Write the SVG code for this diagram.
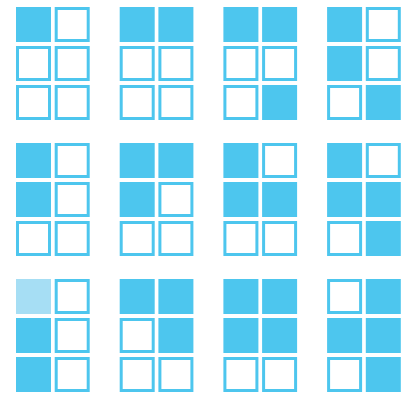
<svg xmlns="http://www.w3.org/2000/svg" width="409" height="396" viewBox="0 0 409 396">
<style>
.f{fill:#4DC6EE}
.l{fill:#A6DEF4}
.e{fill:none;stroke:#4DC6EE;stroke-width:3}
</style>
<defs>
<rect id="F" class="f" x="0" y="0" width="35" height="35"/>
<rect id="L" class="l" x="0" y="0" width="35" height="35"/>
<rect id="E" class="e" x="1.5" y="1.5" width="32" height="32"/>
</defs>
<rect width="409" height="396" fill="#ffffff"/>
<g id="cell1" transform="translate(16,7)">
<use href="#F" x="0" y="0"/><use href="#E" x="38.7" y="0"/>
<use href="#E" x="0" y="39"/><use href="#E" x="38.7" y="39"/>
<use href="#E" x="0" y="78"/><use href="#E" x="38.7" y="78"/>
</g>
<g id="cell2" transform="translate(119.7,7)">
<use href="#F" x="0" y="0"/><use href="#F" x="38.7" y="0"/>
<use href="#E" x="0" y="39"/><use href="#E" x="38.7" y="39"/>
<use href="#E" x="0" y="78"/><use href="#E" x="38.7" y="78"/>
</g>
<g id="cell3" transform="translate(223.4,7)">
<use href="#F" x="0" y="0"/><use href="#F" x="38.7" y="0"/>
<use href="#E" x="0" y="39"/><use href="#E" x="38.7" y="39"/>
<use href="#E" x="0" y="78"/><use href="#F" x="38.7" y="78"/>
</g>
<g id="cell4" transform="translate(327.1,7)">
<use href="#F" x="0" y="0"/><use href="#E" x="38.7" y="0"/>
<use href="#F" x="0" y="39"/><use href="#E" x="38.7" y="39"/>
<use href="#E" x="0" y="78"/><use href="#F" x="38.7" y="78"/>
</g>
<g id="cell5" transform="translate(16,143)">
<use href="#F" x="0" y="0"/><use href="#E" x="38.7" y="0"/>
<use href="#F" x="0" y="39"/><use href="#E" x="38.7" y="39"/>
<use href="#E" x="0" y="78"/><use href="#E" x="38.7" y="78"/>
</g>
<g id="cell6" transform="translate(119.7,143)">
<use href="#F" x="0" y="0"/><use href="#F" x="38.7" y="0"/>
<use href="#F" x="0" y="39"/><use href="#E" x="38.7" y="39"/>
<use href="#E" x="0" y="78"/><use href="#E" x="38.7" y="78"/>
</g>
<g id="cell7" transform="translate(223.4,143)">
<use href="#F" x="0" y="0"/><use href="#E" x="38.7" y="0"/>
<use href="#F" x="0" y="39"/><use href="#F" x="38.7" y="39"/>
<use href="#E" x="0" y="78"/><use href="#E" x="38.7" y="78"/>
</g>
<g id="cell8" transform="translate(327.1,143)">
<use href="#F" x="0" y="0"/><use href="#E" x="38.7" y="0"/>
<use href="#F" x="0" y="39"/><use href="#F" x="38.7" y="39"/>
<use href="#E" x="0" y="78"/><use href="#F" x="38.7" y="78"/>
</g>
<g id="cell9" transform="translate(16,279)">
<use href="#L" x="0" y="0"/><use href="#E" x="38.7" y="0"/>
<use href="#F" x="0" y="39"/><use href="#E" x="38.7" y="39"/>
<use href="#F" x="0" y="78"/><use href="#E" x="38.7" y="78"/>
</g>
<g id="cell10" transform="translate(119.7,279)">
<use href="#F" x="0" y="0"/><use href="#F" x="38.7" y="0"/>
<use href="#E" x="0" y="39"/><use href="#F" x="38.7" y="39"/>
<use href="#E" x="0" y="78"/><use href="#E" x="38.7" y="78"/>
</g>
<g id="cell11" transform="translate(223.4,279)">
<use href="#F" x="0" y="0"/><use href="#F" x="38.7" y="0"/>
<use href="#F" x="0" y="39"/><use href="#F" x="38.7" y="39"/>
<use href="#E" x="0" y="78"/><use href="#E" x="38.7" y="78"/>
</g>
<g id="cell12" transform="translate(327.1,279)">
<use href="#E" x="0" y="0"/><use href="#F" x="38.7" y="0"/>
<use href="#F" x="0" y="39"/><use href="#F" x="38.7" y="39"/>
<use href="#E" x="0" y="78"/><use href="#F" x="38.7" y="78"/>
</g>
<g id="connectors"></g>
</svg>
